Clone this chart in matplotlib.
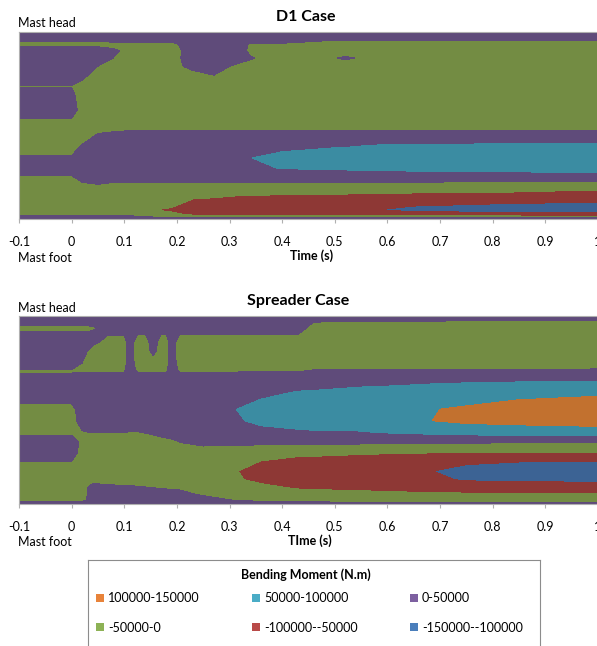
import numpy as np
import matplotlib
matplotlib.use("Agg")
import matplotlib.pyplot as plt
from matplotlib.patches import Patch

plt.rcParams['font.family'] = ['Lato', 'DejaVu Sans']

# position along the mast, head (1) down to foot (0)
mast_pos = [1.0, 0.968, 0.936, 0.898, 0.861, 0.818, 0.765, 0.711, 0.658, 0.583, 0.503,
            0.444, 0.385, 0.326, 0.273, 0.225, 0.176, 0.128, 0.086, 0.048, 0.021, 0.0]

# bending moment in kN.m, one profile (head -> foot) per time step
d1_time = [-0.1, 0.0, 0.02, 0.05, 0.08, 0.11, 0.15, 0.19, 0.23, 0.27, 0.31, 0.34,
           0.4, 0.5, 0.52, 0.57, 0.65, 0.8, 1.0]
d1_moment = [
    [25, 25, -25, 33, 25, 25, 25, -3, 12, 25, -22, -25, -25, 6, 25, -7, -25, -25, -25, -25, -8, 24],
    [25, 25, -25, 33, 25, 25, 25, -3, 12, 25, -22, -25, -25, 6, 25, -7, -25, -25, -25, -25, -8, 24],
    [25, 25, -25, 33, 25, 25, 10, -15, -25, -25, -25, -25, 6, 25, 25, 20, -16, -25, -25, -25, -8, 24],
    [25, 25, -25, 33, 25, -1, -25, -25, -25, -25, -25, 6, 25, 25, 25, 25, -7, -25, -25, -25, -8, 24],
    [25, 25, -12, 5, -1, -25, -25, -25, -25, -25, -25, 14, 25, 25, 25, 25, -20, -25, -25, -25, -8, 24],
    [25, 25, -12, -10, -10, -25, -25, -25, -25, -25, -25, 21, 25, 25, 25, 25, -20, -25, -25, -25, -8, 24],
    [25, 25, -12, -25, -25, -25, -25, -25, -25, -25, -25, 21, 25, 25, 25, 25, -20, -30, -40, -49, -30, 24],
    [25, 25, -12, -25, -20, -25, -25, -25, -25, -25, -25, 21, 25, 25, 25, 25, -20, -25, -38, -58, -40, 24],
    [25, 25, 25, 25, 25, 20, -30, -25, -25, -25, -25, 21, 25, 25, 25, 25, -20, -40, -62, -68, -55, 24],
    [25, 25, 25, 25, 25, 25, -3, -25, -25, -25, -25, 21, 25, 25, 25, 25, -20, -42, -68, -72, -57, 24],
    [25, 25, 25, 25, 25, -8, -25, -25, -25, -25, -25, 21, 25, 25, 25, 25, -20, -48, -72, -75, -60, 24],
    [25, 25, -5, -10, 3, -15, -25, -25, -25, -25, -25, 21, 30, 49, 45, 25, -20, -50, -74, -78, -62, 24],
    [25, 25, -5, -25, -25, -25, -25, -25, -25, -25, -25, 21, 40, 62, 51, 25, -20, -52, -76, -80, -65, 24],
    [25, 10, -20, -25, -2, -25, -25, -25, -25, -25, -25, 21, 48, 70, 56, 25, -20, -55, -78, -85, -66, 24],
    [25, 10, -20, -25, 5, -25, -25, -25, -25, -25, -25, 21, 48, 70, 56, 25, -20, -55, -79, -88, -67, 24],
    [25, 12, -20, -25, -10, -25, -25, -25, -25, -25, -25, 21, 55, 75, 58, 25, -20, -58, -85, -99, -70, 24],
    [25, 12, -20, -25, -25, -25, -25, -25, -25, -25, -25, 21, 58, 78, 62, 25, -22, -60, -92, -112, -80, 24],
    [25, 12, -20, -25, -25, -25, -25, -25, -25, -25, -25, 21, 60, 80, 66, 25, -24, -62, -98, -118, -82, 24],
    [25, 12, -20, -25, -25, -25, -25, -25, -25, -25, -25, 21, 60, 82, 68, 30, -40, -65, -104, -120, -85, 24],
]

spr_time = [-0.1, 0.0, 0.02, 0.04, 0.07, 0.1, 0.11, 0.125, 0.14, 0.155, 0.17, 0.18, 0.19,
            0.205, 0.25, 0.31, 0.36, 0.43, 0.46, 0.55, 0.62, 0.68, 0.75, 0.85, 1.0]
spr_moment = [
    [25, 25, -25, 19, 25, 25, 25, -3, 7, 25, -17, -25, -25, 44, 25, -3, -25, -25, -25, -25, -20, 20],
    [25, 25, -25, 19, 25, 25, 25, -3, 7, 25, -17, -25, -25, 44, 25, -3, -25, -25, -25, -25, -20, 20],
    [25, 25, -25, 19, 25, 25, 2, -6, 24, 25, 25, 25, -3, -25, -25, -25, -25, -25, -25, -25, -20, 20],
    [25, 25, -12, 16, 15, -25, -25, -6, 24, 25, 25, 25, 3, -30, -25, -25, -25, -25, 25, 25, 25, 25],
    [25, 25, 25, -1, -25, -25, -25, -6, 24, 25, 25, 25, 3, -30, -25, -25, -25, -25, 15, 25, 25, 25],
    [25, 25, 25, -1, -25, -25, -25, -6, 24, 25, 25, 25, 3, -30, -25, -25, -25, -25, 8, 25, 25, 25],
    [25, 25, 25, 25, 25, 25, 25, 15, 24, 25, 25, 25, -2, -30, -25, -25, -25, -25, 8, 25, 25, 25],
    [25, 25, 25, -3, -25, -25, -25, -6, 24, 25, 25, 25, -1, -30, -25, -25, -25, -25, 5, 25, 25, 25],
    [25, 25, 25, -3, -25, -25, -25, -6, 24, 25, 25, 25, 3, -25, -25, -25, -25, -25, 2, 25, 25, 25],
    [25, 25, 25, 25, 25, 15, -15, -6, 24, 25, 25, 25, 7, -18, -25, -25, -25, -25, -1, 25, 25, 25],
    [25, 25, 25, -3, -25, -25, -25, -6, 24, 25, 25, 25, 10, -12, -25, -25, -25, -25, -3, 22, 25, 25],
    [25, 25, 25, -3, -25, -25, -25, -6, 24, 25, 25, 25, 12, -10, -25, -25, -25, -25, -5, 20, 25, 25],
    [25, 25, 25, 25, 25, 25, 25, 15, 24, 25, 25, 25, 14, -8, -25, -25, -25, -25, -6, 18, 25, 25],
    [25, 25, 25, -3, -25, -25, -25, -6, 24, 25, 25, 25, 18, -2, -25, -25, -25, -25, -8, 15, 25, 25],
    [25, 25, 25, -4, -25, -25, -25, -6, 24, 25, 25, 25, 25, 10, -23, -25, -25, -25, -25, -5, 20, 25],
    [25, 25, 25, -4, -25, -25, -25, -6, 24, 35, 49, 45, 30, 8, -25, -35, -48, -45, -30, -12, -4, 25],
    [25, 25, 25, -4, -25, -25, -25, -6, 30, 44, 62, 58, 40, 8, -35, -52, -65, -60, -40, -20, -8, 12],
    [25, 25, 25, -4, -25, -25, -25, -8, 35, 54, 70, 66, 45, 8, -40, -65, -80, -72, -55, -30, -12, 10],
    [25, -1, -25, -25, -25, -25, -25, 1, 36, 55, 72, 68, 47, 8, -40, -67, -82, -75, -57, -32, -12, 10],
    [25, -3, -25, -25, -25, -25, -25, 2, 40, 60, 78, 74, 48, 5, -45, -75, -90, -82, -62, -35, -15, 10],
    [25, -5, -25, -25, -25, -25, -25, 2, 38, 68, 88, 85, 58, 3, -48, -82, -95, -88, -68, -38, -18, 10],
    [25, -6, -25, -25, -25, -25, -25, 2, 40, 75, 98, 99, 62, 2, -50, -88, -99, -92, -72, -40, -20, 10],
    [25, -8, -25, -25, -25, -25, -25, 2, 42, 82, 105, 110, 68, 1, -52, -94, -115, -104, -78, -42, -22, 10],
    [25, -10, -25, -25, -25, -25, -25, 2, 44, 88, 120, 115, 74, -1, -54, -100, -122, -107, -79, -44, -24, 9],
    [25, -12, -25, -25, -25, -25, -25, 3, 45, 95, 130, 120, 80, -2, -55, -105, -130, -110, -80, -45, -25, 8],
]

# contour bands, N.m
band_edges = [-150000, -100000, -50000, 0, 50000, 100000, 150000]
band_labels = ["-150000--100000", "-100000--50000", "-50000-0",
               "0-50000", "50000-100000", "100000-150000"]
band_colors = ["#3C6394", "#8E3835", "#738C43", "#5F4B7A", "#3B8CA2", "#C2712F"]
key_colors = ["#4A7EBB", "#B94A48", "#8DB255", "#7D60A0", "#4AACC6", "#E8833A"]

tick_vals = [-0.1, 0, 0.1, 0.2, 0.3, 0.4, 0.5, 0.6, 0.7, 0.8, 0.9, 1.0]
tick_text = ["-0.1", "0", "0.1", "0.2", "0.3", "0.4", "0.5", "0.6", "0.7", "0.8", "0.9", "1"]

W, H = 597, 646
GREY = "#B0B0B0"


def draw_case(ax, time, moment):
    z = np.array(moment, dtype=float).T * 1000
    cs = ax.contourf(time, mast_pos, z, levels=band_edges, colors=band_colors)
    cs.set_edgecolor("face")
    cs.set_linewidth(0.4)
    ax.set_xlim(-0.1, 1.0)
    ax.set_ylim(0, 1)
    ax.set_yticks([])
    ax.set_xticks(tick_vals)
    ax.set_xticklabels(tick_text, fontsize=9)
    ax.tick_params(axis="x", length=3, color=GREY, pad=9)
    for s in ax.spines.values():
        s.set_color(GREY)
        s.set_linewidth(0.8)


def px_axes(fig, left, top, right, bottom):
    return fig.add_axes([left / W, 1 - bottom / H, (right - left) / W, (bottom - top) / H])


fig = plt.figure(figsize=(W / 100, H / 100), dpi=100)

ax1 = px_axes(fig, 19, 32, 598, 219)
draw_case(ax1, d1_time, d1_moment)
ax2 = px_axes(fig, 19, 316, 598, 504)
draw_case(ax2, spr_time, spr_moment)

fig.text(306 / W, 1 - 17 / H, "D1 Case", ha="center", va="center", fontsize=11.5, fontweight="bold")
fig.text(298 / W, 1 - 301 / H, "Spreader Case", ha="center", va="center", fontsize=11.5, fontweight="bold")
fig.text(18 / W, 1 - 23 / H, "Mast head", ha="left", va="center", fontsize=9)
fig.text(18 / W, 1 - 258 / H, "Mast foot", ha="left", va="center", fontsize=9)
fig.text(18 / W, 1 - 308 / H, "Mast head", ha="left", va="center", fontsize=9)
fig.text(18 / W, 1 - 542 / H, "Mast foot", ha="left", va="center", fontsize=9)
fig.text(312 / W, 1 - 256 / H, "Time (s)", ha="center", va="center", fontsize=9, fontweight="bold")
fig.text(310 / W, 1 - 541 / H, "TIme (s)", ha="center", va="center", fontsize=9, fontweight="bold")

# legend box, runs off the bottom of the figure
axl = px_axes(fig, 88, 560, 540, 680)
axl.set_xticks([])
axl.set_yticks([])
for s in axl.spines.values():
    s.set_color("#8C8C8C")
    s.set_linewidth(0.8)

fig.text(306 / W, 1 - 575 / H, "Bending Moment (N.m)", ha="center", va="center",
         fontsize=9, fontweight="bold")

order = [5, 2, 4, 1, 3, 0]
handles = [Patch(facecolor=key_colors[i], edgecolor="none", label=band_labels[i]) for i in order]
axl.legend(handles=handles, ncol=3, loc="upper center", bbox_to_anchor=(0.49, 1 - 21 / 120),
           frameon=False, fontsize=9, handlelength=0.6, handleheight=0.6, handletextpad=0.35,
           columnspacing=4.2, labelspacing=1.4)

fig.savefig("out.png", dpi=100)
